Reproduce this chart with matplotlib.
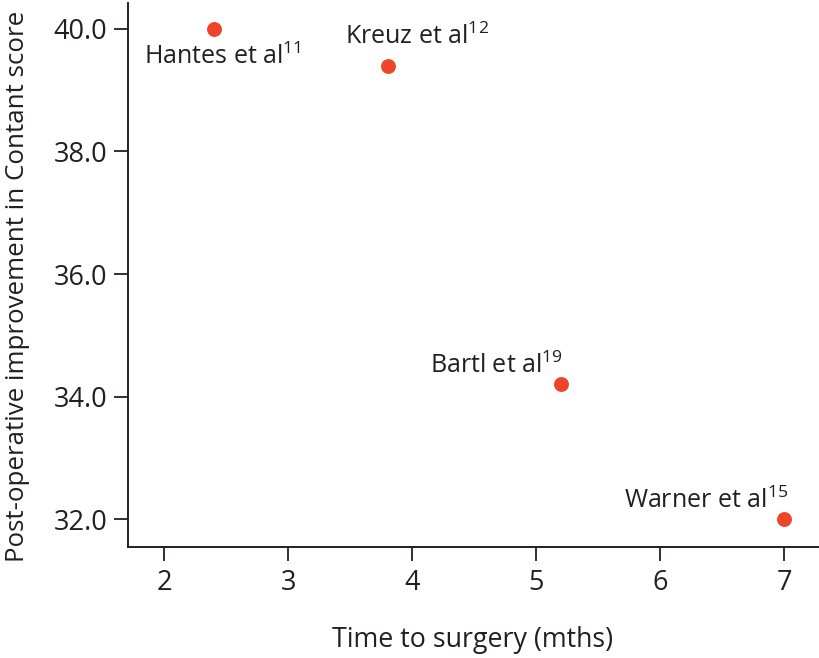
import matplotlib
matplotlib.use("Agg")
import matplotlib.pyplot as plt

plt.rcParams['font.family'] = ['Open Sans', 'DejaVu Sans']
plt.rcParams['mathtext.default'] = 'regular'

studies = ["Hantes et al$^{11}$", "Kreuz et al$^{12}$", "Bartl et al$^{19}$", "Warner et al$^{15}$"]
time_to_surgery = [2.4, 3.8, 5.2, 7.0]
improvement = [40.0, 39.4, 34.2, 32.0]
x_ticks = [2, 3, 4, 5, 6, 7]
y_ticks = [32.0, 34.0, 36.0, 38.0, 40.0]

# label offsets in pixels (dx, dy)
offsets = [(9, -28), (29, 29), (-65, 19), (-78, 19)]

txt = '#231F20'
fig = plt.figure(figsize=(8.19, 6.58), dpi=100)
ax = fig.add_axes([128/819, 1 - 547/658, (819 - 128)/819, (547 - 3)/658])

ax.scatter(time_to_surgery, improvement, s=115, color='#EE4427', zorder=3, linewidths=0)
for name, x, y, (dx, dy) in zip(studies, time_to_surgery, improvement, offsets):
    ax.annotate(name, (x, y), xytext=(dx, dy), textcoords='offset pixels',
                ha='center', va='center', fontsize=18, color=txt)

ax.set_xlim(1.707, 7.28)
ax.set_ylim(31.55, 40.42)
ax.set_xticks(x_ticks)
ax.set_xticklabels([str(v) for v in x_ticks])
ax.set_yticks(y_ticks)
ax.set_yticklabels([f"{v:.1f}" for v in y_ticks])
for s in ['top', 'right']:
    ax.spines[s].set_visible(False)
for s in ['left', 'bottom']:
    ax.spines[s].set_linewidth(1.4)
    ax.spines[s].set_color(txt)
ax.tick_params(axis='both', length=10, width=1.3, color=txt, labelsize=19.5, labelcolor=txt)
ax.tick_params(axis='y', pad=5)
ax.tick_params(axis='x', pad=6)

fig.text(18/819, 1 - 286/658, "Post-operative improvement in Contant score", rotation=90,
         ha='center', va='center', fontsize=18.6, color=txt)
fig.text(473/819, 1 - 640/658, "Time to surgery (mths)", ha='center', va='center',
         fontsize=19.3, color=txt)

fig.savefig('out.png', dpi=100)
